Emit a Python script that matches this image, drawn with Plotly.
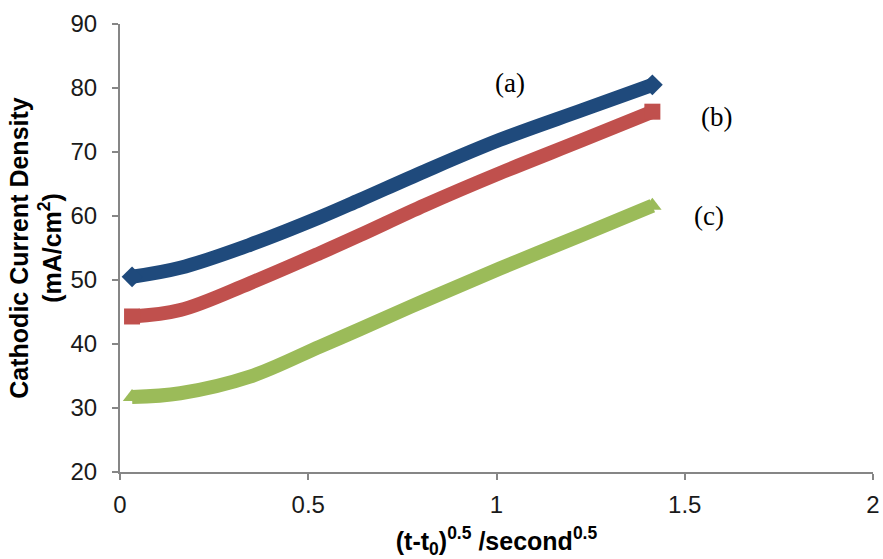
import plotly.graph_objects as go

# sqrt-time axis values (s^0.5) and cathodic current density (mA/cm^2)
x_vals = [0.032, 0.16, 0.345, 0.531, 0.637, 0.81, 1.009, 1.23, 1.414]
y_a = [50.5, 51.9, 55.5, 59.8, 62.5, 67.0, 71.9, 76.6, 80.5]
y_b = [44.3, 45.3, 49.5, 54.2, 57.0, 61.7, 66.7, 71.9, 76.3]
y_c = [31.7, 32.3, 34.9, 39.6, 42.3, 46.8, 51.8, 57.1, 61.6]

series_labels = ["(a)", "(b)", "(c)"]
label_pos = [(1.035, 80.8), (1.585, 75.5), (1.565, 60.0)]

styles = [
    ("#1F4A7C", "diamond", y_a),
    ("#C0504D", "square", y_b),
    ("#9BBB59", "triangle-up", y_c),
]

fig = go.Figure()
for color, symbol, ys in styles:
    fig.add_trace(go.Scatter(
        x=x_vals, y=ys, mode="lines",
        line=dict(color=color, width=14, shape="spline", smoothing=1.0),
        showlegend=False, hoverinfo="skip",
    ))
    fig.add_trace(go.Scatter(
        x=[x_vals[0], x_vals[-1]], y=[ys[0], ys[-1]], mode="markers",
        marker=dict(color=color, symbol=symbol, size=16, line=dict(width=0)),
        showlegend=False, hoverinfo="skip",
    ))

for text, (lx, ly) in zip(series_labels, label_pos):
    fig.add_annotation(
        x=lx, y=ly, text=text, showarrow=False,
        font=dict(family="Liberation Serif, Times New Roman, serif", size=27, color="#000000"),
    )

axis_font = dict(family="Liberation Sans, Arial, sans-serif", size=24, color="#1a1a1a")
title_font = dict(family="Liberation Sans, Arial, sans-serif", size=25, color="#000000")

fig.update_xaxes(
    range=[0, 2], tickvals=[0, 0.5, 1, 1.5, 2], ticktext=["0", "0.5", "1", "1.5", "2"],
    showline=True, linecolor="#868686", linewidth=2,
    ticks="outside", ticklen=6, tickcolor="#868686", tickwidth=2,
    showgrid=False, zeroline=False, tickfont=axis_font, ticklabelstandoff=4,
    automargin=False,
    title=dict(text="<b>(t-t<sub>0</sub>)<sup>0.5</sup> /second<sup>0.5</sup></b>", font=title_font, standoff=19),
)
fig.update_yaxes(
    range=[20, 90], tickvals=[20, 30, 40, 50, 60, 70, 80, 90],
    showline=True, linecolor="#868686", linewidth=2,
    ticks="outside", ticklen=6, tickcolor="#868686", tickwidth=2,
    showgrid=False, zeroline=False, tickfont=axis_font, ticklabelstandoff=10,
    automargin=False,
    title=dict(text="<b>Cathodic Current Density<br>(mA/cm<sup>2</sup>)</b>", font=title_font, standoff=2),
)

fig.update_layout(
    width=883, height=559,
    margin=dict(l=120, r=10, t=24, b=87),
    plot_bgcolor="white", paper_bgcolor="white",
)

fig.write_html("out.html")
